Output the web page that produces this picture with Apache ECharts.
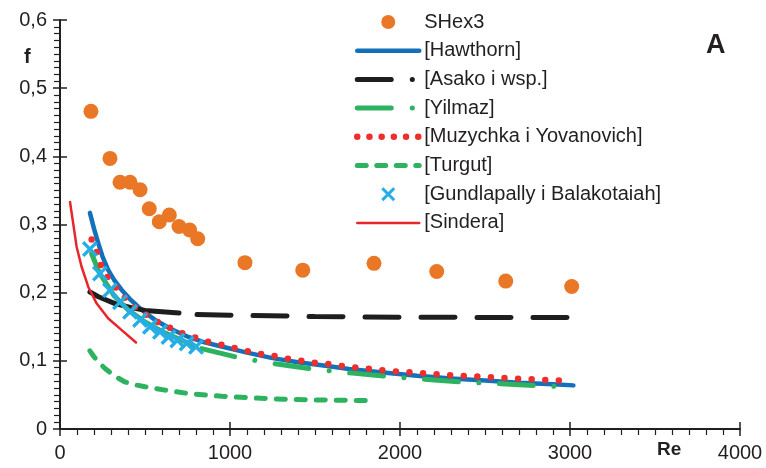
<!DOCTYPE html>
<html>
<head>
<meta charset="utf-8">
<script src="https://cdn.jsdelivr.net/npm/echarts@6/dist/echarts.min.js"></script>
<style>
  html, body { margin: 0; padding: 0; background: #ffffff; }
  #chart { width: 766px; height: 468px; }
</style>
</head>
<body>
<div id="chart"></div>
<script>
// Friction factor f versus Reynolds number Re
const seriesNames = [
  'SHex3', '[Hawthorn]', '[Asako i wsp.]', '[Yilmaz]',
  '[Muzychka i Yovanovich]', '[Turgut]', '[Gundlapally i Balakotaiah]', '[Sindera]'
];

// Measured points
const shexRe = [182, 294, 353, 412, 471, 525, 584, 643, 700, 763, 810, 1088, 1428, 1847, 2216, 2622, 3010];
const shexF  = [0.466, 0.397, 0.362, 0.362, 0.351, 0.323, 0.304, 0.314, 0.297, 0.292, 0.279, 0.244, 0.233, 0.243, 0.231, 0.217, 0.209];

// Correlations
const hawthornRe = [176, 200, 226, 250, 284, 320, 363, 410, 461, 510, 559, 650, 755, 850, 950, 1100, 1250, 1400, 1550, 1700, 1900, 2100, 2300, 2500, 2700, 2900, 3020];
const hawthornF  = [0.317, 0.294, 0.272, 0.253, 0.233, 0.218, 0.204, 0.191, 0.179, 0.169, 0.160, 0.147, 0.135, 0.127, 0.121, 0.112, 0.104, 0.098, 0.093, 0.088, 0.083, 0.078, 0.074, 0.071, 0.068, 0.0655, 0.064];

const asakoRe = [176, 226, 324, 420, 500, 600, 700, 806, 1000, 1500, 2000, 2500, 3010];
const asakoF  = [0.201, 0.194, 0.184, 0.178, 0.174, 0.172, 0.170, 0.168, 0.167, 0.165, 0.164, 0.1637, 0.1635];

const yilmazRe = [186, 230, 265, 320, 400, 500, 600, 700, 790, 833, 1029, 1137, 1245, 1471, 1578, 1696, 1912, 2029, 2143, 2363, 2480, 2592, 2814, 2928];
const yilmazF  = [0.257, 0.230, 0.216, 0.195, 0.175, 0.157, 0.143, 0.132, 0.122, 0.118, 0.106, 0.101, 0.0965, 0.0885, 0.0855, 0.0825, 0.0775, 0.075, 0.073, 0.069, 0.0675, 0.0665, 0.0635, 0.0625];

const muzychkaRe = [186, 216, 241, 284, 333, 386, 441, 510, 588, 653, 712, 784, 869, 945, 1024, 1104, 1182, 1265, 1345, 1425, 1506, 1588, 1667, 1747, 1827, 1908, 1988, 2071, 2151, 2231, 2314, 2394, 2476, 2557, 2637, 2718, 2798, 2882, 2963];
const muzychkaF  = [0.278, 0.260, 0.240, 0.221, 0.206, 0.191, 0.179, 0.167, 0.155, 0.148, 0.141, 0.135, 0.128, 0.124, 0.119, 0.114, 0.110, 0.107, 0.103, 0.100, 0.097, 0.095, 0.092, 0.090, 0.088, 0.086, 0.084, 0.083, 0.0816, 0.0801, 0.0787, 0.0776, 0.0766, 0.0756, 0.0746, 0.0736, 0.0727, 0.0717, 0.0707];

const turgutRe = [176, 200, 230, 265, 320, 382, 440, 500, 618, 755, 951, 1147, 1343, 1539, 1843];
const turgutF  = [0.1146, 0.106, 0.097, 0.0888, 0.078, 0.069, 0.065, 0.062, 0.057, 0.052, 0.048, 0.0454, 0.0434, 0.0425, 0.0415];

const gundlapallyRe = [176, 235, 294, 353, 412, 471, 529, 588, 638, 690, 745, 800];
const gundlapallyF  = [0.264, 0.228, 0.2035, 0.186, 0.172, 0.160, 0.150, 0.1425, 0.135, 0.130, 0.1255, 0.1205];

const sinderaRe = [59, 78, 98, 127, 167, 216, 284, 363, 447];
const sinderaF  = [0.333, 0.301, 0.267, 0.238, 0.208, 0.184, 0.162, 0.145, 0.127];

// Axis ranges
const xMin = 0, xMax = 4000, xStep = 1000;
const yMin = 0, yMax = 0.6, yStep = 0.1;

const pairs = (xs, ys) => xs.map((x, i) => [x, ys[i]]);
// split a curve into its solid head and dashed tail
const headUntil = (xs, ys, lim) => pairs(xs, ys).filter(p => p[0] <= lim);
const tailFrom  = (xs, ys, lim) => pairs(xs, ys).filter(p => p[0] >= lim);

const FONT = 'Liberation Sans, Arial, sans-serif';
const INK = '#231F20';
const ORANGE = '#E97726', BLUE = '#1271BA', BLACK = '#1E1E1E', GREEN = '#2DB35F',
      RED = '#EE2D2D', CYAN = '#25AEE5', RED2 = '#E8252B';

const crossPath = 'path://M0,15L15,0L50,35L85,0L100,15L65,50L100,85L85,100L50,65L15,100L0,85L35,50Z';

const chart = echarts.init(document.getElementById('chart'), null, { renderer: 'canvas' });

const yFmt = v => (v === 0 ? '0' : v.toFixed(1).replace('.', ','));
const xFmt = v => String(Math.round(v));

const lineBase = { type: 'line', symbol: 'none', silent: true, z: 2 };
// legend entries for lines: hide the marker that the line icon carries
const noMarker = { opacity: 0 };

chart.setOption({
  animation: false,
  backgroundColor: '#ffffff',
  grid: { left: 60, top: 20, width: 680, height: 409, containLabel: false },
  xAxis: [
    {
      type: 'value', min: xMin, max: xMax, interval: xStep,
      axisLine: { show: true, lineStyle: { color: INK, width: 2 } },
      axisTick: { show: true, length: 7, lineStyle: { color: INK, width: 1.5 } },
      minorTick: { show: true, splitNumber: 10, length: 6, lineStyle: { color: INK, width: 1.2 } },
      splitLine: { show: false },
      axisLabel: { color: INK, fontSize: 20, fontFamily: FONT, margin: 14, formatter: xFmt }
    },
    {
      type: 'value', min: xMin, max: xMax, interval: xStep, position: 'bottom',
      axisLine: { show: false },
      axisTick: { show: true, inside: true, length: 7, lineStyle: { color: INK, width: 1.5 } },
      splitLine: { show: false }, axisLabel: { show: false }
    }
  ],
  yAxis: [
    {
      type: 'value', min: yMin, max: yMax, interval: yStep,
      axisLine: { show: true, lineStyle: { color: INK, width: 2 } },
      axisTick: { show: true, length: 7, lineStyle: { color: INK, width: 1.5 } },
      minorTick: { show: true, splitNumber: 10, length: 6, lineStyle: { color: INK, width: 1.2 } },
      splitLine: { show: false },
      axisLabel: { color: INK, fontSize: 20, fontFamily: FONT, margin: 13, formatter: yFmt }
    },
    {
      type: 'value', min: yMin, max: yMax, interval: yStep, position: 'left',
      axisLine: { show: false },
      axisTick: { show: true, inside: true, length: 7, lineStyle: { color: INK, width: 1.5 } },
      splitLine: { show: false }, axisLabel: { show: false }
    }
  ],
  legend: {
    orient: 'vertical', left: 349, top: 7,
    itemWidth: 62, itemHeight: 14, itemGap: 8.7,
    selectedMode: false,
    textStyle: { color: INK, fontSize: 20, fontFamily: FONT, lineHeight: 20 },
    data: [
      { name: seriesNames[0] },
      { name: seriesNames[1], itemStyle: noMarker, lineStyle: { width: 4.5 } },
      { name: seriesNames[2], itemStyle: noMarker, lineStyle: { width: 5, type: [34, 21, 0.1, 30], cap: 'round' } },
      { name: seriesNames[3], itemStyle: noMarker, lineStyle: { width: 5, type: [34, 21, 0.1, 30], cap: 'round' } },
      { name: seriesNames[4], itemStyle: noMarker, lineStyle: { width: 6.5, type: [0, 12.2], cap: 'round' } },
      { name: seriesNames[5], itemStyle: noMarker, lineStyle: { width: 5, type: [9, 10.5], cap: 'round' } },
      { name: seriesNames[6] },
      { name: seriesNames[7], itemStyle: noMarker, lineStyle: { width: 2.5 } }
    ]
  },
  graphic: [
    { type: 'text', left: 24, top: 47, style: { text: 'f', font: 'bold 20px ' + FONT, fill: INK } },
    { type: 'text', left: 657, top: 440, style: { text: 'Re', font: 'bold 19px ' + FONT, fill: INK } },
    { type: 'text', left: 706, top: 32, style: { text: 'A', font: 'bold 27px ' + FONT, fill: INK } }
  ],
  series: [
    {
      name: seriesNames[0], type: 'scatter', symbol: 'circle', symbolSize: 15, z: 2,
      itemStyle: { color: ORANGE, opacity: 1 }, data: pairs(shexRe, shexF)
    },
    Object.assign({}, lineBase, {
      name: seriesNames[1], lineStyle: { color: BLUE, width: 4.5, cap: 'round' }, itemStyle: { color: BLUE },
      data: pairs(hawthornRe, hawthornF)
    }),
    Object.assign({}, lineBase, {
      name: 'asako-head', lineStyle: { color: BLACK, width: 5, cap: 'round' }, itemStyle: { color: BLACK },
      data: headUntil(asakoRe, asakoF, 700)
    }),
    Object.assign({}, lineBase, {
      name: seriesNames[2], lineStyle: { color: BLACK, width: 5, type: [34, 22], cap: 'round' }, itemStyle: { color: BLACK },
      data: tailFrom(asakoRe, asakoF, 806)
    }),
    Object.assign({}, lineBase, {
      name: 'yilmaz-head', lineStyle: { color: GREEN, width: 5, cap: 'round' }, itemStyle: { color: GREEN },
      data: headUntil(yilmazRe, yilmazF, 790)
    }),
    Object.assign({}, lineBase, {
      name: seriesNames[3], lineStyle: { color: GREEN, width: 5, type: [34, 20.5, 0.1, 20.5], cap: 'round' }, itemStyle: { color: GREEN },
      data: tailFrom(yilmazRe, yilmazF, 833)
    }),
    Object.assign({}, lineBase, {
      name: seriesNames[4], lineStyle: { color: RED, width: 6.5, type: [0, 13.6], cap: 'round' }, itemStyle: { color: RED },
      data: pairs(muzychkaRe, muzychkaF)
    }),
    Object.assign({}, lineBase, {
      name: seriesNames[5], lineStyle: { color: GREEN, width: 5, type: [9, 11], cap: 'round' }, itemStyle: { color: GREEN },
      data: pairs(turgutRe, turgutF)
    }),
    {
      name: seriesNames[6], type: 'scatter', symbol: crossPath, symbolSize: 16, z: 2,
      itemStyle: { color: CYAN, opacity: 1 }, data: pairs(gundlapallyRe, gundlapallyF)
    },
    Object.assign({}, lineBase, {
      name: seriesNames[7], lineStyle: { color: RED2, width: 2.5, cap: 'round' }, itemStyle: { color: RED2 },
      data: pairs(sinderaRe, sinderaF)
    })
  ]
});
</script>
</body>
</html>
